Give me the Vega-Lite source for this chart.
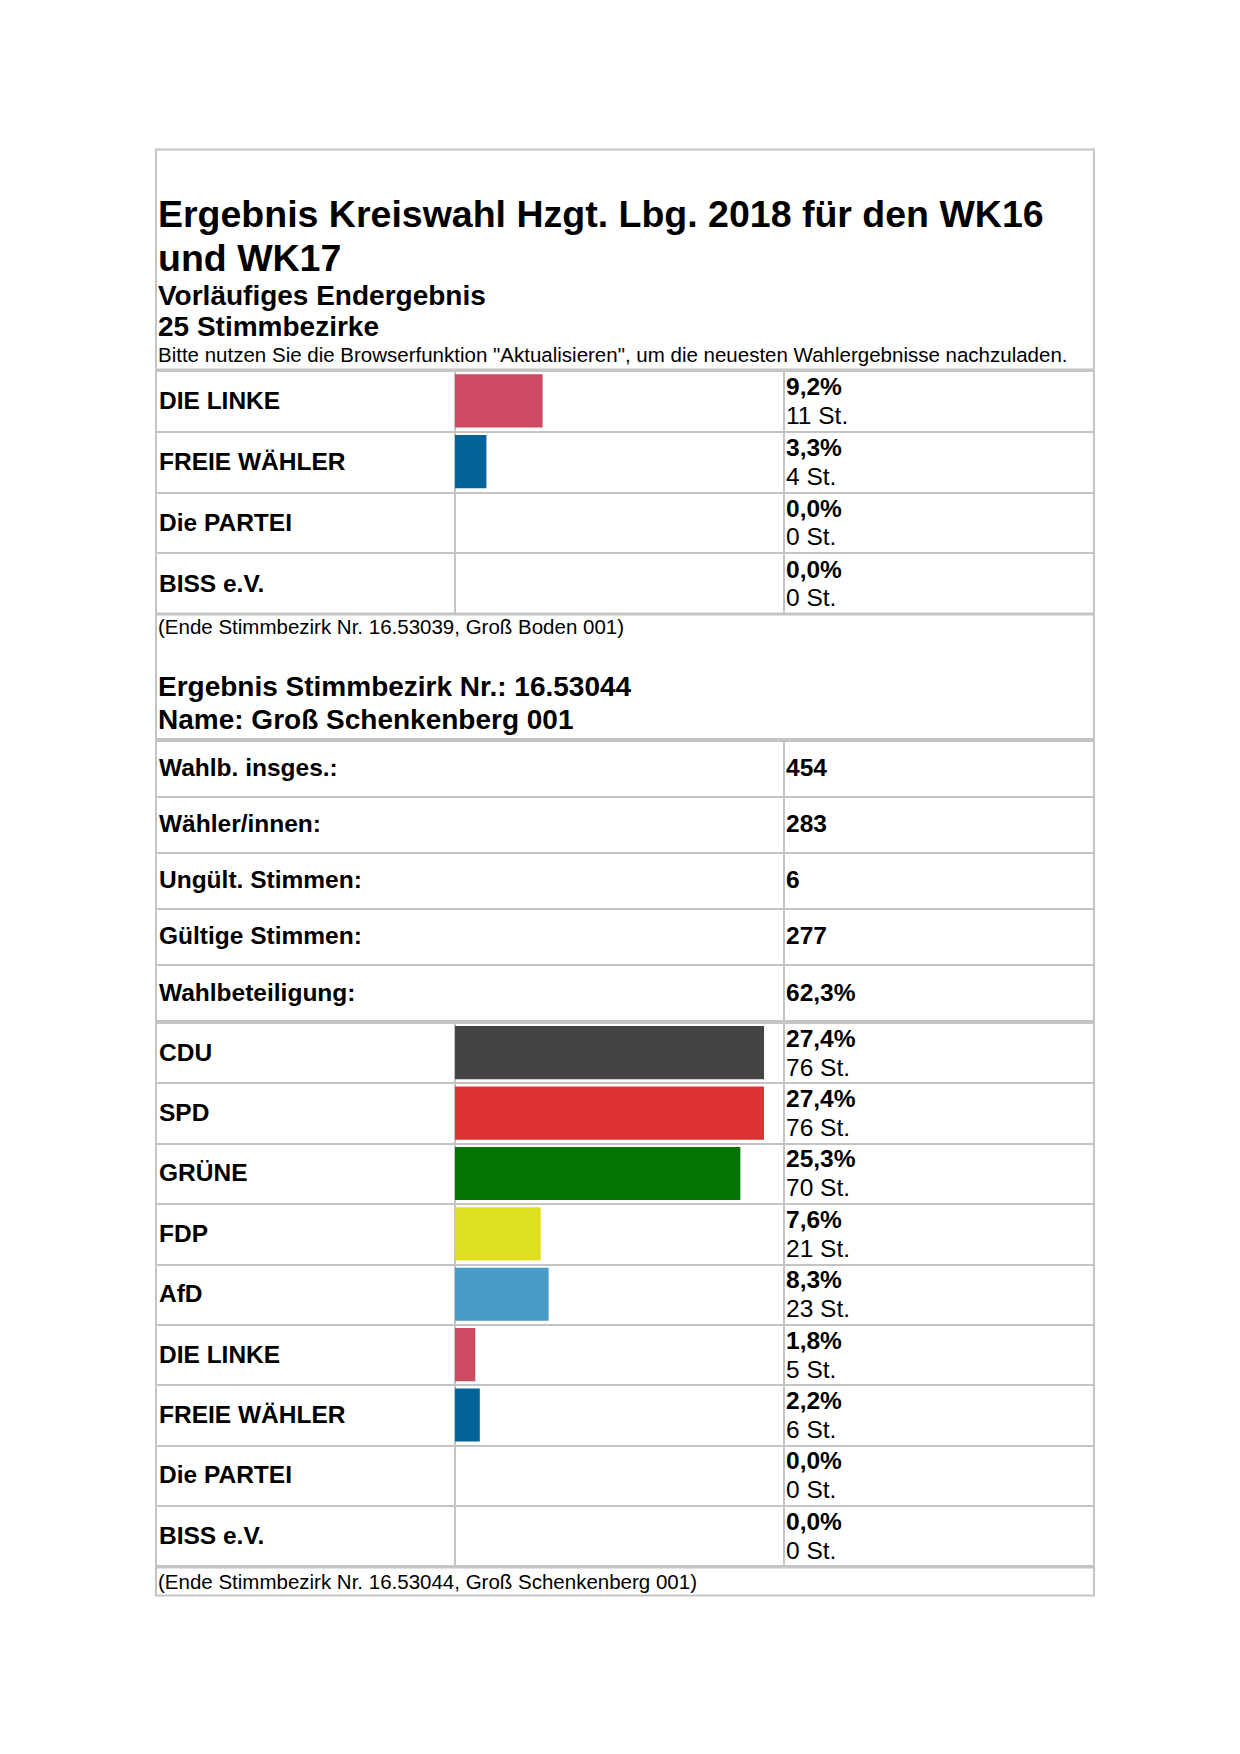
{
  "$schema": "https://vega.github.io/schema/vega-lite/v6.json",
  "background": "white",
  "padding": {"left": 155, "top": 148.5, "right": 10, "bottom": 10},
  "config": {
    "font": "Liberation Sans",
    "view": {"stroke": "#c4c4c4", "strokeWidth": 2},
    "axis": {"gridColor": "#c4c4c4", "gridWidth": 2, "gridOpacity": 1, "minExtent": 0, "maxExtent": 0},
    "locale": {"number": {"decimal": ",", "thousands": ".", "grouping": [3], "currency": ["", " €"]}}
  },
  "datasets": {
    "head": [
      {"block": "title", "text": "Ergebnis Kreiswahl Hzgt. Lbg. 2018 für den WK16\nund WK17"},
      {"block": "subtitle", "text": "Vorläufiges Endergebnis\n25 Stimmbezirke"},
      {"block": "note", "text": "Bitte nutzen Sie die Browserfunktion \"Aktualisieren\", um die neuesten Wahlergebnisse nachzuladen."}
    ],
    "mid": [
      {"block": "end", "text": "(Ende Stimmbezirk Nr. 16.53039, Groß Boden 001)"},
      {"block": "head", "text": "Ergebnis Stimmbezirk Nr.: 16.53044\nName: Groß Schenkenberg 001"}
    ],
    "foot": [
      {"block": "end", "text": "(Ende Stimmbezirk Nr. 16.53044, Groß Schenkenberg 001)"}
    ],
    "sec1": [
      {"party": "DIE LINKE", "share": 0.092, "votes": 11},
      {"party": "FREIE WÄHLER", "share": 0.033, "votes": 4},
      {"party": "Die PARTEI", "share": 0.0, "votes": 0},
      {"party": "BISS e.V.", "share": 0.0, "votes": 0}
    ],
    "stats": [
      {"label": "Wahlb. insges.:", "value": "454"},
      {"label": "Wähler/innen:", "value": "283"},
      {"label": "Ungült. Stimmen:", "value": "6"},
      {"label": "Gültige Stimmen:", "value": "277"},
      {"label": "Wahlbeteiligung:", "value": "62,3%"}
    ],
    "sec2": [
      {"party": "CDU", "share": 0.274, "votes": 76},
      {"party": "SPD", "share": 0.274, "votes": 76},
      {"party": "GRÜNE", "share": 0.253, "votes": 70},
      {"party": "FDP", "share": 0.076, "votes": 21},
      {"party": "AfD", "share": 0.083, "votes": 23},
      {"party": "DIE LINKE", "share": 0.018, "votes": 5},
      {"party": "FREIE WÄHLER", "share": 0.022, "votes": 6},
      {"party": "Die PARTEI", "share": 0.0, "votes": 0},
      {"party": "BISS e.V.", "share": 0.0, "votes": 0}
    ]
  },
  "spacing": -3,
  "resolve": {"scale": {"x": "independent", "y": "independent"}},
  "vconcat": [
    {
      "width": 938, "height": 220,
      "data": {"name": "head"},
      "encoding": {
        "x": {"datum": 0, "type": "quantitative", "scale": {"domain": [0, 1]}, "axis": null},
        "y": {"field": "block", "type": "nominal", "scale": {"domain": ["title", "subtitle", "note"], "paddingInner": 0, "paddingOuter": 0}, "axis": null},
        "text": {"field": "text"}
      },
      "layer": [
        {"transform": [{"filter": "datum.block === 'title'"}], "mark": {"type": "text", "align": "left", "baseline": "alphabetic", "fontSize": 37.5, "fontWeight": "bold", "lineBreak": "\n", "lineHeight": 43.7, "dx": 2, "dy": 41.3, "color": "black"}},
        {"transform": [{"filter": "datum.block === 'subtitle'"}], "mark": {"type": "text", "align": "left", "baseline": "alphabetic", "fontSize": 28, "fontWeight": "bold", "lineBreak": "\n", "lineHeight": 31, "dx": 2, "dy": 45.7, "color": "black"}},
        {"transform": [{"filter": "datum.block === 'note'"}], "mark": {"type": "text", "align": "left", "baseline": "alphabetic", "fontSize": 20.5, "dx": 2, "dy": 29.4, "color": "black"}}
      ]
    },
    {
      "hconcat": [
        {
          "width": 299, "height": 243,
          "data": {"name": "sec1"},
          "mark": {"type": "text", "align": "left", "baseline": "alphabetic", "fontSize": 24.5, "fontWeight": "bold", "dx": 3, "dy": 8.5, "color": "black"},
          "encoding": {
            "x": {"datum": 0, "type": "quantitative", "scale": {"domain": [0, 1]}, "axis": null},
            "y": {"field": "party", "type": "nominal", "sort": null, "scale": {"paddingInner": 0, "paddingOuter": 0}, "axis": {"grid": true, "tickBand": "extent", "labels": false, "ticks": false, "domain": false, "title": null}},
            "text": {"field": "party"}
          }
        },
        {
          "width": 329, "height": 243,
          "data": {"name": "sec1"},
          "mark": {"type": "bar", "height": {"band": 0.88}},
          "encoding": {
            "x": {"field": "share", "type": "quantitative", "scale": {"domain": [0, 0.3455], "nice": false, "zero": true}, "axis": null},
            "y": {"field": "party", "type": "nominal", "sort": null, "scale": {"paddingInner": 0, "paddingOuter": 0}, "axis": {"grid": true, "tickBand": "extent", "labels": false, "ticks": false, "domain": false, "title": null}},
            "color": {"field": "party", "type": "nominal", "legend": null, "scale": {"domain": ["CDU", "SPD", "GRÜNE", "FDP", "AfD", "DIE LINKE", "FREIE WÄHLER", "Die PARTEI", "BISS e.V."], "range": ["#444444", "#dd3333", "#037303", "#dfdf22", "#4a9ac8", "#cc4a62", "#03649a", "#888888", "#888888"]}}
          }
        },
        {
          "width": 310, "height": 243,
          "data": {"name": "sec1"},
          "transform": [{"calculate": "datum.votes + ' St.'", "as": "votesLabel"}],
          "encoding": {
            "x": {"datum": 0, "type": "quantitative", "scale": {"domain": [0, 1]}, "axis": null},
            "y": {"field": "party", "type": "nominal", "sort": null, "scale": {"paddingInner": 0, "paddingOuter": 0}, "axis": {"grid": true, "tickBand": "extent", "labels": false, "ticks": false, "domain": false, "title": null}}
          },
          "layer": [
            {"mark": {"type": "text", "align": "left", "baseline": "alphabetic", "fontSize": 24.5, "fontWeight": "bold", "dx": 2, "dy": -5.5, "color": "black"}, "encoding": {"text": {"field": "share", "type": "quantitative", "format": ".1%"}}},
            {"mark": {"type": "text", "align": "left", "baseline": "alphabetic", "fontSize": 24.5, "dx": 2, "dy": 23, "color": "black"}, "encoding": {"text": {"field": "votesLabel"}}}
          ]
        }
      ],
      "spacing": 0,
      "bounds": "flush",
      "resolve": {"scale": {"x": "independent", "y": "independent"}}
    },
    {
      "width": 938, "height": 124.4,
      "data": {"name": "mid"},
      "encoding": {
        "x": {"datum": 0, "type": "quantitative", "scale": {"domain": [0, 1]}, "axis": null},
        "y": {"field": "block", "type": "nominal", "scale": {"domain": ["end", "head"], "paddingInner": 0, "paddingOuter": 0}, "axis": null},
        "text": {"field": "text"}
      },
      "layer": [
        {"transform": [{"filter": "datum.block === 'end'"}], "mark": {"type": "text", "align": "left", "baseline": "alphabetic", "fontSize": 20.5, "dx": 2, "dy": -11.4, "color": "black"}},
        {"transform": [{"filter": "datum.block === 'head'"}], "mark": {"type": "text", "align": "left", "baseline": "alphabetic", "fontSize": 28, "fontWeight": "bold", "lineBreak": "\n", "lineHeight": 33, "dx": 2, "dy": -11.6, "color": "black"}}
      ]
    },
    {
      "hconcat": [
        {
          "width": 628, "height": 280.6,
          "data": {"name": "stats"},
          "mark": {"type": "text", "align": "left", "baseline": "alphabetic", "fontSize": 24.5, "fontWeight": "bold", "dx": 3, "dy": 7.5, "color": "black"},
          "encoding": {
            "x": {"datum": 0, "type": "quantitative", "scale": {"domain": [0, 1]}, "axis": null},
            "y": {"field": "label", "type": "nominal", "sort": null, "scale": {"paddingInner": 0, "paddingOuter": 0}, "axis": {"grid": true, "tickBand": "extent", "labels": false, "ticks": false, "domain": false, "title": null}},
            "text": {"field": "label"}
          }
        },
        {
          "width": 310, "height": 280.6,
          "data": {"name": "stats"},
          "mark": {"type": "text", "align": "left", "baseline": "alphabetic", "fontSize": 24.5, "fontWeight": "bold", "dx": 2, "dy": 7.5, "color": "black"},
          "encoding": {
            "x": {"datum": 0, "type": "quantitative", "scale": {"domain": [0, 1]}, "axis": null},
            "y": {"field": "label", "type": "nominal", "sort": null, "scale": {"paddingInner": 0, "paddingOuter": 0}, "axis": {"grid": true, "tickBand": "extent", "labels": false, "ticks": false, "domain": false, "title": null}},
            "text": {"field": "value"}
          }
        }
      ],
      "spacing": 0,
      "bounds": "flush",
      "resolve": {"scale": {"x": "independent", "y": "independent"}}
    },
    {
      "hconcat": [
        {
          "width": 299, "height": 543.5,
          "data": {"name": "sec2"},
          "mark": {"type": "text", "align": "left", "baseline": "alphabetic", "fontSize": 24.5, "fontWeight": "bold", "dx": 3, "dy": 8, "color": "black"},
          "encoding": {
            "x": {"datum": 0, "type": "quantitative", "scale": {"domain": [0, 1]}, "axis": null},
            "y": {"field": "party", "type": "nominal", "sort": null, "scale": {"paddingInner": 0, "paddingOuter": 0}, "axis": {"grid": true, "tickBand": "extent", "labels": false, "ticks": false, "domain": false, "title": null}},
            "text": {"field": "party"}
          }
        },
        {
          "width": 329, "height": 543.5,
          "data": {"name": "sec2"},
          "mark": {"type": "bar", "height": {"band": 0.88}},
          "encoding": {
            "x": {"field": "share", "type": "quantitative", "scale": {"domain": [0, 0.2917], "nice": false, "zero": true}, "axis": null},
            "y": {"field": "party", "type": "nominal", "sort": null, "scale": {"paddingInner": 0, "paddingOuter": 0}, "axis": {"grid": true, "tickBand": "extent", "labels": false, "ticks": false, "domain": false, "title": null}},
            "color": {"field": "party", "type": "nominal", "legend": null, "scale": {"domain": ["CDU", "SPD", "GRÜNE", "FDP", "AfD", "DIE LINKE", "FREIE WÄHLER", "Die PARTEI", "BISS e.V."], "range": ["#444444", "#dd3333", "#037303", "#dfdf22", "#4a9ac8", "#cc4a62", "#03649a", "#888888", "#888888"]}}
          }
        },
        {
          "width": 310, "height": 543.5,
          "data": {"name": "sec2"},
          "transform": [{"calculate": "datum.votes + ' St.'", "as": "votesLabel"}],
          "encoding": {
            "x": {"datum": 0, "type": "quantitative", "scale": {"domain": [0, 1]}, "axis": null},
            "y": {"field": "party", "type": "nominal", "sort": null, "scale": {"paddingInner": 0, "paddingOuter": 0}, "axis": {"grid": true, "tickBand": "extent", "labels": false, "ticks": false, "domain": false, "title": null}}
          },
          "layer": [
            {"mark": {"type": "text", "align": "left", "baseline": "alphabetic", "fontSize": 24.5, "fontWeight": "bold", "dx": 2, "dy": -6, "color": "black"}, "encoding": {"text": {"field": "share", "type": "quantitative", "format": ".1%"}}},
            {"mark": {"type": "text", "align": "left", "baseline": "alphabetic", "fontSize": 24.5, "dx": 2, "dy": 23, "color": "black"}, "encoding": {"text": {"field": "votesLabel"}}}
          ]
        }
      ],
      "spacing": 0,
      "bounds": "flush",
      "resolve": {"scale": {"x": "independent", "y": "independent"}}
    },
    {
      "width": 938, "height": 28,
      "data": {"name": "foot"},
      "mark": {"type": "text", "align": "left", "baseline": "alphabetic", "fontSize": 20.5, "dx": 2, "dy": 7, "color": "black"},
      "encoding": {
        "x": {"datum": 0, "type": "quantitative", "scale": {"domain": [0, 1]}, "axis": null},
        "y": {"field": "block", "type": "nominal", "scale": {"paddingInner": 0, "paddingOuter": 0}, "axis": null},
        "text": {"field": "text"}
      }
    }
  ]
}
